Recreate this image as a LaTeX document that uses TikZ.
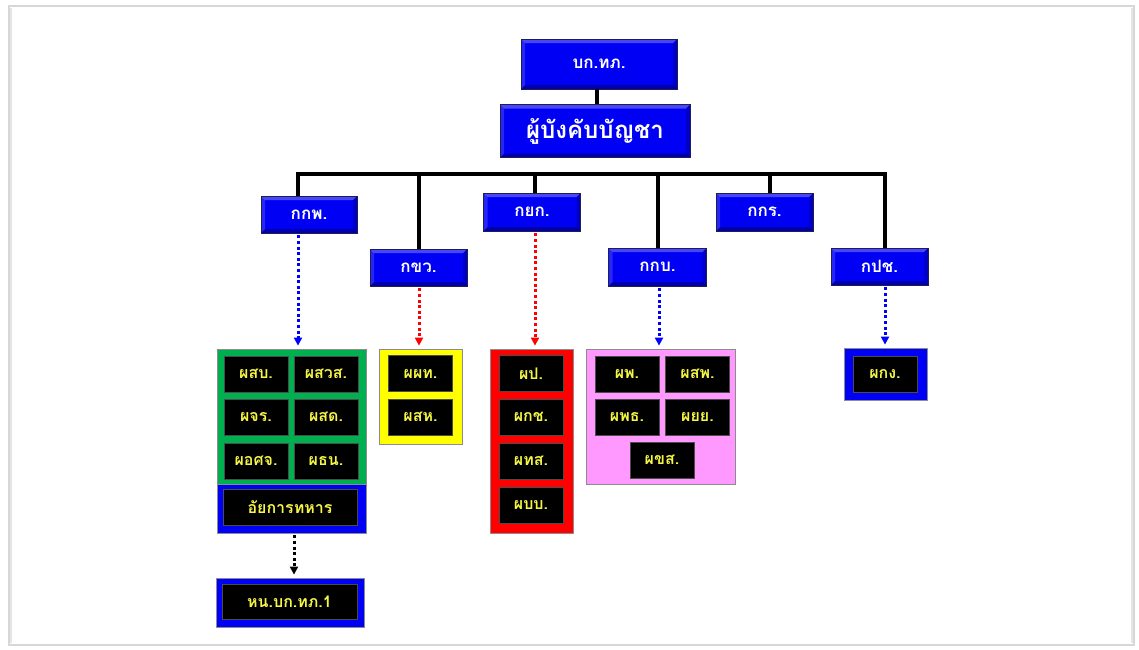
\documentclass[tikz,border=0pt]{standalone}
\usepackage{fontspec}
\newfontfamily\thaifont[Script=Thai]{Loma}
\usetikzlibrary{arrows.meta}
\definecolor{boxblue}{RGB}{0,0,245}
\definecolor{boxedge}{RGB}{30,30,80}
\definecolor{grpgreen}{RGB}{0,176,80}
\definecolor{grpred}{RGB}{255,0,0}
\definecolor{grpyellow}{RGB}{255,255,0}
\definecolor{grppink}{RGB}{255,153,255}
\definecolor{labyellow}{RGB}{245,245,70}
\definecolor{framegray}{RGB}{215,215,215}
\tikzset{
  wh/.style 2 args={minimum width=#1pt, minimum height=#2pt},
  bluebox/.style={draw=boxedge, line width=0.8pt, fill=boxblue, text=white,
    inner sep=0pt, font=\thaifont\bfseries\fontsize{17}{20}\selectfont,
    path picture={
      \fill[white,opacity=0.28] (path picture bounding box.north west) -- (path picture bounding box.north east)
        -- ([shift={(-4pt,-4pt)}]path picture bounding box.north east) -- ([shift={(4pt,-4pt)}]path picture bounding box.north west) -- cycle;
      \fill[black,opacity=0.3] (path picture bounding box.south west) -- (path picture bounding box.south east)
        -- ([shift={(-4pt,4pt)}]path picture bounding box.south east) -- ([shift={(4pt,4pt)}]path picture bounding box.south west) -- cycle;
      \fill[black,opacity=0.2] (path picture bounding box.north east) -- (path picture bounding box.south east)
        -- ([shift={(-4pt,4pt)}]path picture bounding box.south east) -- ([shift={(-4pt,-4pt)}]path picture bounding box.north east) -- cycle;
      \fill[white,opacity=0.15] (path picture bounding box.north west) -- (path picture bounding box.south west)
        -- ([shift={(4pt,4pt)}]path picture bounding box.south west) -- ([shift={(4pt,-4pt)}]path picture bounding box.north west) -- cycle;
    }},
  grpbox/.style={draw=black!45, line width=0.8pt, fill=#1, inner sep=0pt},
  blackbox/.style={fill=black, draw=black!70, line width=0.4pt, text=labyellow, inner sep=0pt,
    wh={64}{36}, font=\thaifont\bfseries\fontsize{16}{19}\selectfont},
  conn/.style={line width=3.2pt, black},
  dotarrow/.style={#1, line width=3pt, dash pattern=on 3pt off 2.6pt,
    -{Triangle[length=8pt,width=8pt]}, shorten >=3pt, shorten <=2pt}
}
\begin{document}
\begin{tikzpicture}[x=1pt,y=-1pt]
\useasboundingbox (0,0) rectangle (1139,649);
\fill[white] (0,0) rectangle (1139,649);
\draw[framegray, line width=2pt] (9,6) rectangle (1134,645);
\draw[black!10, line width=2pt] (11,8) -- (11,643);
\draw[black!10, line width=2pt] (1132,8) -- (1132,643);

% top level
\node[bluebox, wh={156}{50}] (top) at (599,64) {บก.ทภ.};
\node[bluebox, wh={190}{53}, font=\thaifont\bfseries\fontsize{24}{28}\selectfont] (chief) at (595,131) {ผู้บังคับบัญชา};
\coordinate (xtop) at (597,0);
\draw[conn] (top.south -| xtop) -- (chief.north -| xtop);

% divisions
\node[bluebox, wh={96}{37}] (kkp) at (309,214.5) {กกพ.};
\node[bluebox, wh={97}{37}] (kkw) at (418.5,267.5) {กขว.};
\node[bluebox, wh={97}{38}] (kyk) at (532,212) {กยก.};
\node[bluebox, wh={98}{38}] (kkb) at (657.5,267) {กกบ.};
\node[bluebox, wh={97}{38}] (kkr) at (764.5,212) {กกร.};
\node[bluebox, wh={97}{37}] (kpc) at (879.5,266.5) {กปช.};

% bus
\coordinate (bL) at (298,174);
\coordinate (bR) at (885,174);
\coordinate (xkkw) at (419,174);
\coordinate (xkyk) at (535,174);
\coordinate (xkkb) at (658,174);
\coordinate (xkkr) at (770,174);
\draw[conn] ([xshift=-1.6pt]bL) -- ([xshift=1.6pt]bR);
\draw[conn] (bL) -- (kkp.north -| bL);
\draw[conn] (xkkw) -- (kkw.north -| xkkw);
\draw[conn] (xkyk) -- (kyk.north -| xkyk);
\draw[conn] (xkkb) -- (kkb.north -| xkkb);
\draw[conn] (xkkr) -- (kkr.north -| xkkr);
\draw[conn] (bR) -- (kpc.north -| bR);

% groups
\node[grpbox=grpgreen, wh={149}{135}] (gGreen) at (291.5,416.5) {};
\node[grpbox=boxblue, wh={149}{49}] (gAy) at (291.5,508.5) {};
\node[grpbox=boxblue, wh={148}{49}] (gHn) at (290,602.5) {};
\node[grpbox=grpyellow, wh={83}{95}] (gYellow) at (420.5,396.5) {};
\node[grpbox=grpred, wh={83}{184}] (gRed) at (531.5,441) {};
\node[grpbox=grppink, wh={149}{135}] (gPink) at (660.5,416.5) {};
\node[grpbox=boxblue, wh={83}{52}] (gPkg) at (885.5,374) {};

% green group
\node[blackbox] (g11) at (256,374) {ผสบ.};
\node[blackbox] (g12) at (326,374) {ผสวส.};
\node[blackbox] (g21) at (256,417) {ผจร.};
\node[blackbox] (g22) at (326,417) {ผสด.};
\node[blackbox] (g31) at (256,461) {ผอศจ.};
\node[blackbox] (g32) at (326,461) {ผธน.};
\node[blackbox, wh={134}{36}] (ay) at (290,507) {อัยการทหาร};
\node[blackbox, wh={135}{35}] (hn) at (289.5,601.5) {หน.บก.ทภ.1};

% yellow group
\node[blackbox] (y1) at (420.5,373.5) {ผผท.};
\node[blackbox] (y2) at (420.5,417) {ผสห.};

% red group
\node[blackbox] (r1) at (531,373.5) {ผป.};
\node[blackbox] (r2) at (531,417) {ผกช.};
\node[blackbox] (r3) at (531,461) {ผทส.};
\node[blackbox] (r4) at (531,505) {ผบบ.};

% pink group
\node[blackbox] (p11) at (627,374) {ผพ.};
\node[blackbox] (p12) at (697.5,374) {ผสพ.};
\node[blackbox] (p21) at (627,417) {ผพธ.};
\node[blackbox] (p22) at (697.5,417) {ผยย.};
\node[blackbox] (p3) at (662,460) {ผขส.};

% pkg
\node[blackbox] (pkg) at (885,374) {ผกง.};

% dotted arrows
\draw[dotarrow=blue] (kkp.south -| bL) -- (gGreen.north -| bL);
\draw[dotarrow=red] (kkw.south -| xkkw) -- (gYellow.north -| xkkw);
\draw[dotarrow=red] (kyk.south -| xkyk) -- (gRed.north -| xkyk);
\coordinate (xkkb2) at (659,0);
\draw[dotarrow=blue] (kkb.south -| xkkb2) -- (gPink.north -| xkkb2);
\draw[dotarrow=blue] (kpc.south -| bR) -- (gPkg.north -| bR);
\coordinate (xay) at (294,0);
\draw[dotarrow=black] (gAy.south -| xay) -- (gHn.north -| xay);
\end{tikzpicture}
\end{document}
